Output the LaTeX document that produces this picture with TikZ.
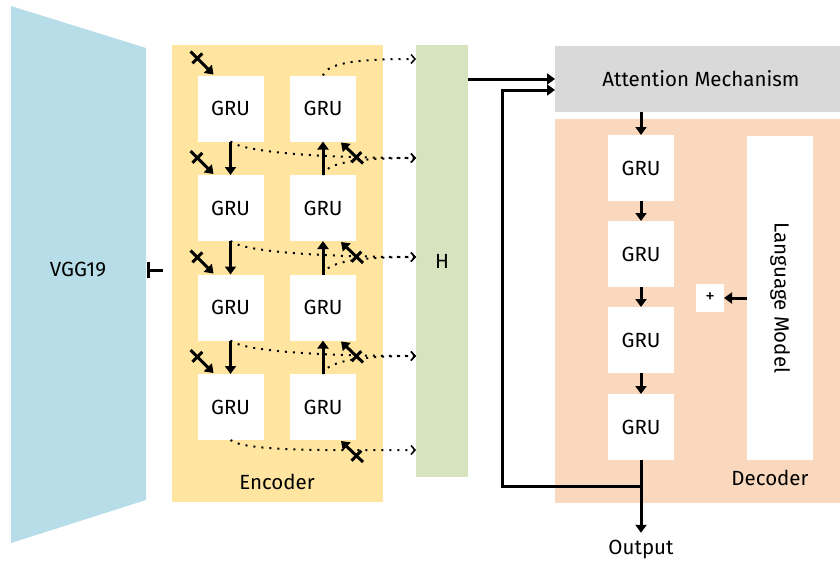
\documentclass[tikz,border=0pt]{standalone}
\usepackage{fontspec}
\setmainfont{Fira Sans}
\usetikzlibrary{arrows.meta,calc,decorations.markings}
\definecolor{vggblue}{HTML}{B7DDE8}
\definecolor{encyellow}{HTML}{FFE59F}
\definecolor{hgreen}{HTML}{D6E3BE}
\definecolor{attgray}{HTML}{D9D9D9}
\definecolor{decpeach}{HTML}{FAD8BD}

\begin{document}
\begin{tikzpicture}[x=1pt,y=-1pt,line width=3pt,font=\fontsize{20.5}{23}\selectfont]
  \tikzstyle{panel}=[inner sep=0pt,outer sep=0pt,draw=none]
  \tikzstyle{gru}=[panel,fill=white,minimum width=66pt,minimum height=66pt]
  \tikzstyle{arr}=[-{Triangle[length=8pt,width=11pt]}]
  \tikzstyle{dotarr}=[line width=2pt,dash pattern=on 2pt off 6pt,
                      -{Straight Barb[length=4pt,width=9pt,line width=1.5pt]}]
  \tikzstyle{xin}=[arr,decoration={markings,mark=at position 0.3 with
                   {\draw[-,line width=3pt] (0,-7pt) -- (0,7pt);}},postaction={decorate}]
  \useasboundingbox (0,0) rectangle (840,562);

  % backbone and panels
  \fill[vggblue] (11,6) -- (146,48) -- (146,500) -- (11,543) -- cycle;
  \node (vgg) at (78,270) {VGG19};
  \node[panel,fill=encyellow,minimum width=211pt,minimum height=457pt] (enc) at (277.5,273.5) {};
  \node (enclab) at (277,482) {Encoder};
  \node[panel,fill=hgreen,minimum width=52pt,minimum height=432pt] (H) at (442,261) {H};
  \node[panel,fill=attgray,minimum width=292pt,minimum height=66pt] (att) at (701,79) {Attention Mechanism};
  \node[panel,fill=decpeach,minimum width=292pt,minimum height=384pt] (dec) at (701,311) {};
  \node (declab) at (770,478) {Decoder};

  \foreach \i/\y in {1/108.5, 2/208, 3/307.5, 4/407} {
    \node[gru] (L\i) at (230.5,\y) {GRU};
    \node[gru] (R\i) at (323,\y) {GRU};
  }
  \foreach \i/\y in {1/168, 2/254, 3/340, 4/427}
    \node[gru] (D\i) at (641,\y) {GRU};

  \node[panel,fill=white,rotate=-90,minimum width=324pt,minimum height=66pt] (lm) at (780,298) {Language Model};
  \node[panel,fill=white,minimum size=28pt,font=\fontsize{19}{20}\selectfont] (plus) at (710,298) {+};
  \node (out) at (641,549) {Output};

  \foreach \k/\y in {0/59, 1/158, 2/257, 3/356, 4/450}
    \coordinate (h\k) at (H.west |- 0,\y);
  \coordinate (vggR) at (147,270);
  \coordinate (fb) at (502,486);

  % recurrent links
  \foreach \i/\j in {1/2, 2/3, 3/4} {
    \draw[arr] (L\i) -- (L\j);
    \draw[arr] (R\j) -- (R\i);
    \draw[arr] (D\i) -- (D\j);
  }

  % inputs
  \foreach \i in {1,...,4} {
    \coordinate (inL\i) at ([xshift=-7pt,yshift=24pt]L\i.north west);
    \coordinate (inR\i) at ([xshift=7pt,yshift=-22pt]R\i.south east);
    \draw[xin] (inL\i) -- ([xshift=16pt,yshift=1pt]L\i.north west);
    \draw[xin] (inR\i) -- ([xshift=-15pt,yshift=-1pt]R\i.south east);
  }

  % states into H
  \draw[dotarr] (R1.north) .. controls +(4,-14) and +(-50,0) .. (h0);
  \foreach \i in {1,...,4}
    \draw[dotarr] (L\i.south) .. controls +(15,12) and +(-80,0) .. (h\i);
  \foreach \i/\k in {2/1, 3/2, 4/3}
    \draw[dotarr] (R\i.north) .. controls +(4,-14) and +(-50,0) .. (h\k);

  \draw[{Bar[width=16pt]}-] (vggR) -- (vggR -| enc.west) [shorten >=9pt];
  \draw[arr] (H.east |- att.west) -- (att.west);
  \draw[arr] (att.south -| D1) -- (D1.north);
  \draw[arr] (lm.south) -- (plus.east);
  \draw[arr,shorten >=2pt] (D4.south) -- (out.north);
  \draw[arr] (D4.south |- fb) -- (fb) |- ([yshift=-11pt]att.west);
\end{tikzpicture}
\end{document}
